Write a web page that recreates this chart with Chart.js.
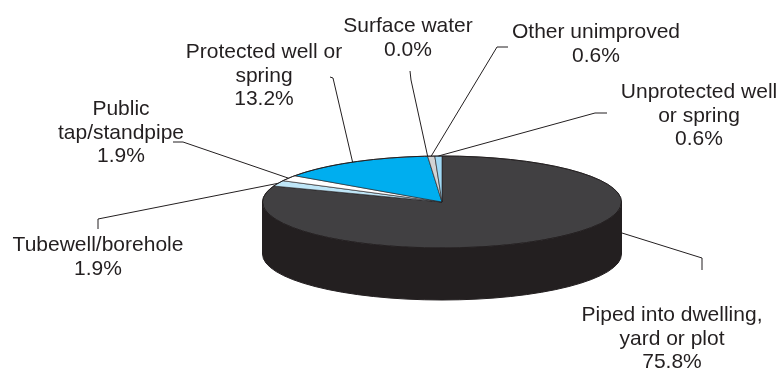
<!DOCTYPE html>
<html>
<head>
<meta charset="utf-8">
<script src="https://cdn.jsdelivr.net/npm/chart.js@4.4.1/dist/chart.umd.min.js"></script>
<style>
html, body { margin: 0; padding: 0; background: #fff; }
#wrap { width: 780px; height: 368px; position: relative; }
</style>
</head>
<body>
<div id="wrap"><canvas id="sourceChart"></canvas></div>
<script>
// slice order is clockwise from 12 o'clock
const categories = ['Piped into dwelling, yard or plot', 'Tubewell/borehole', 'Public tap/standpipe',
    'Protected well or spring', 'Surface water', 'Other unimproved', 'Unprotected well or spring'];
const shares = [75.8, 1.9, 1.9, 13.2, 0.0, 0.6, 0.6];
const labelLines = [
    ['Piped into dwelling,', 'yard or plot'],
    ['Tubewell/borehole'],
    ['Public', 'tap/standpipe'],
    ['Protected well or', 'spring'],
    ['Surface water'],
    ['Other unimproved'],
    ['Unprotected well', 'or spring']
];
const topColors = ['#414042', '#bfe6f7', '#ffffff', '#00aeef', '#e6e7e8', '#d1d3d4', '#9fd9f5'];
const sideColors = ['#231f20', '#8fb8c8', '#cfcfcf', '#0082b3', '#b0b0b0', '#a0a0a0', '#78a9c0'];

// label placement: first baseline, elbow of leader line
const labelLayout = [
    { x: 672, y: 321, path: [[702, 270], [702, 258]], anchor: [622, 233] },
    { x: 98, y: 251, path: [[98, 229], [98, 219]] },
    { x: 121, y: 115, path: [[173, 142], [183, 142]] },
    { x: 264, y: 58, path: [[330, 77], [333, 78]] },
    { x: 408, y: 32, path: [[410, 71], [411, 80]] },
    { x: 596, y: 38, path: [[508, 47], [497, 47]] },
    { x: 699, y: 98, path: [[607, 113], [595, 113]] }
];

const tilt = { cy: 202, ry: 46, depth: 52 };
const ink = '#231f20';

const pie3d = {
    id: 'pie3d',
    beforeDatasetsDraw(chart) {
        const ctx = chart.ctx;
        const arcs = chart.getDatasetMeta(0).data;
        const cx = arcs[0].x, cy = arcs[0].y, r = arcs[0].outerRadius;

        // side wall, only the front half shows
        arcs.forEach((arc, i) => {
            [-2 * Math.PI, 0, 2 * Math.PI].forEach(off => {
                const a = Math.max(arc.startAngle, off);
                const b = Math.min(arc.endAngle, Math.PI + off);
                if (b <= a) return;
                ctx.beginPath();
                ctx.ellipse(cx, tilt.cy, r, tilt.ry, 0, a, b);
                ctx.ellipse(cx, tilt.cy + tilt.depth, r, tilt.ry, 0, b, a, true);
                ctx.closePath();
                ctx.fillStyle = sideColors[i];
                ctx.fill();
            });
        });
        ctx.beginPath();
        ctx.moveTo(cx - r, tilt.cy);
        ctx.lineTo(cx - r, tilt.cy + tilt.depth);
        ctx.ellipse(cx, tilt.cy + tilt.depth, r, tilt.ry, 0, Math.PI, 0, true);
        ctx.lineTo(cx + r, tilt.cy);
        ctx.strokeStyle = ink;
        ctx.lineWidth = 1;
        ctx.stroke();

        // squash the top face
        ctx.save();
        ctx.translate(0, tilt.cy);
        ctx.scale(1, tilt.ry / r);
        ctx.translate(0, -cy);
    },
    afterDatasetsDraw(chart) {
        const ctx = chart.ctx;
        ctx.restore();
        const arc = chart.getDatasetMeta(0).data[0];
        ctx.beginPath();
        ctx.ellipse(arc.x, tilt.cy, arc.outerRadius, tilt.ry, 0, 0, 2 * Math.PI);
        ctx.strokeStyle = ink;
        ctx.lineWidth = 1;
        ctx.stroke();
    },
    afterDraw(chart) {
        const ctx = chart.ctx;
        const arcs = chart.getDatasetMeta(0).data;
        ctx.save();
        ctx.font = '21px "Liberation Sans", Arial, sans-serif';
        ctx.textAlign = 'center';
        ctx.textBaseline = 'alphabetic';
        ctx.fillStyle = ink;
        ctx.strokeStyle = ink;
        ctx.lineWidth = 1;
        labelLayout.forEach((lab, i) => {
            const arc = arcs[i];
            let end = lab.anchor;
            if (!end) {
                const mid = (arc.startAngle + arc.endAngle) / 2;
                end = [arc.x + arc.outerRadius * Math.cos(mid), tilt.cy + tilt.ry * Math.sin(mid)];
            }
            ctx.beginPath();
            ctx.moveTo(lab.path[0][0], lab.path[0][1]);
            lab.path.slice(1).forEach(p => ctx.lineTo(p[0], p[1]));
            ctx.lineTo(end[0], end[1]);
            ctx.stroke();

            const lines = labelLines[i].concat([shares[i].toFixed(1) + '%']);
            lines.forEach((t, k) => ctx.fillText(t, lab.x, lab.y + k * 23.5));
        });
        ctx.restore();
    }
};

new Chart(document.getElementById('sourceChart'), {
    type: 'pie',
    data: {
        labels: categories,
        datasets: [{
            data: shares,
            backgroundColor: topColors,
            borderColor: ink,
            borderWidth: 1,
            clip: false
        }]
    },
    options: {
        responsive: true,
        maintainAspectRatio: false,
        animation: false,
        events: [],
        layout: { padding: { left: 262, right: 158, top: 4, bottom: 4 } },
        plugins: { legend: { display: false }, tooltip: { enabled: false } }
    },
    plugins: [pie3d]
});
</script>
</body>
</html>
